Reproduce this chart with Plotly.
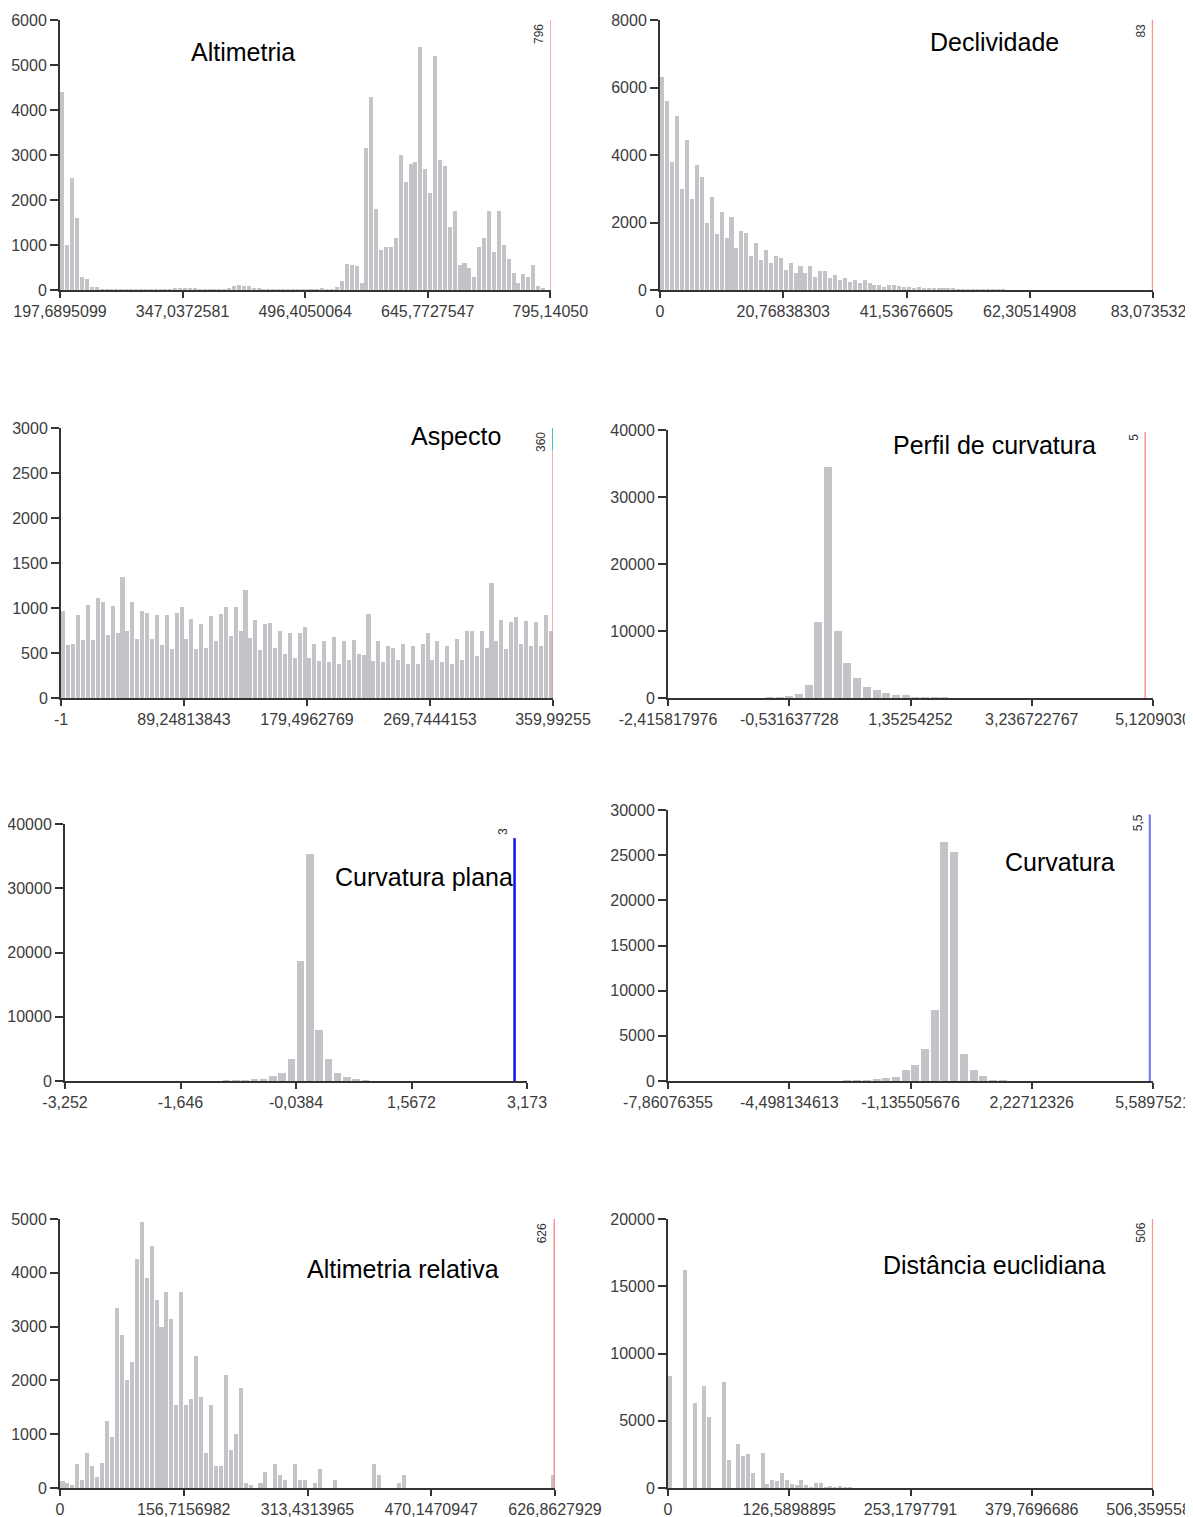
import numpy as np
import plotly.graph_objects as go

# page is 1193 x 1517; the html body adds an 8 px margin
PAGE_W, PAGE_H, OFF = 1193, 1517, 8
W, H = PAGE_W - OFF, PAGE_H - OFF

# ---------------- data ----------------
titles = ["Altimetria", "Declividade", "Aspecto", "Perfil de curvatura",
          "Curvatura plana", "Curvatura", "Altimetria relativa", "Distância euclidiana"]

alt_counts = [4400, 1000, 2500, 1600, 300, 250, 70, 60, 20, 15,
              20, 15, 10, 10, 5, 5, 5, 5, 5, 5,
              5, 10, 20, 50, 40, 30, 50, 40, 20, 10,
              10, 5, 5, 10, 30, 100, 110, 100, 80, 50,
              30, 10, 10, 5, 5, 5, 5, 5, 5, 10,
              10, 10, 20, 40, 10, 20, 60, 200, 570, 560,
              530, 150, 3150, 4300, 1800, 900, 950, 950, 1150, 3000,
              2400, 2800, 2850, 5400, 2700, 2150, 5200, 2900, 2750, 1400,
              1750, 550, 600, 500, 300, 950, 1150, 1750, 850, 1750,
              1000, 700, 380, 150, 350, 300, 550, 100, 50, 0]

decl_counts = [6300, 5600, 3800, 5150, 3000, 4450, 2700, 3700, 3350, 2000,
               2750, 1650, 2300, 1550, 2150, 1250, 1750, 1700, 1000, 1400,
               900, 1200, 800, 1000, 950, 600, 800, 500, 700, 500,
               700, 400, 550, 550, 350, 450, 300, 350, 250, 300,
               200, 300, 200, 150, 150, 100, 150, 150, 120, 100,
               80, 70, 80, 70, 60, 50, 40, 40, 40, 30,
               20, 20, 15, 15, 10, 10, 10, 5, 5, 5,
               0, 0, 0, 0, 0, 0, 0, 0, 0, 0,
               0, 0, 0, 0, 0, 0, 0, 0, 0, 0,
               0, 0, 0, 0, 0, 0, 0, 0, 0, 0]

asp_counts = [970, 590, 600, 920, 640, 1030, 640, 1110, 1070, 700,
              1020, 720, 1350, 740, 1065, 655, 970, 945, 655, 925,
              590, 925, 550, 940, 1010, 655, 880, 550, 820, 560,
              915, 635, 935, 1015, 690, 1015, 740, 1195, 670, 870,
              535, 820, 830, 560, 740, 485, 720, 450, 720, 785,
              450, 605, 410, 635, 405, 680, 375, 635, 420, 645,
              485, 480, 935, 410, 630, 400, 580, 560, 420, 600,
              375, 580, 375, 605, 720, 420, 635, 400, 580, 380,
              655, 420, 740, 740, 470, 740, 560, 1280, 635, 870,
              550, 840, 900, 600, 855, 580, 840, 580, 925, 740]

perf_counts = [0, 0, 0, 0, 0, 0, 0, 0, 0, 0,
               50, 150, 300, 600, 1900, 11300, 34500, 10000, 5200, 3000,
               1700, 1200, 700, 500, 500, 150, 80, 50, 30, 0,
               0, 0, 0, 0, 0, 0, 0, 0, 0, 0,
               0, 0, 0, 0, 0, 0, 0, 0, 0, 0]

plana_counts = [0, 0, 0, 0, 0, 0, 0, 0, 0, 0,
                0, 0, 0, 0, 0, 0, 0, 50, 100, 150,
                200, 300, 800, 1300, 3500, 18700, 35300, 7900, 3400, 1300,
                700, 200, 50, 0, 0, 0, 0, 0, 0, 0,
                0, 0, 0, 0, 0, 0, 0, 0, 0, 0]

curv_counts = [0, 0, 0, 0, 0, 0, 0, 0, 0, 0,
               0, 0, 0, 0, 0, 0, 0, 0, 50, 80,
               100, 200, 300, 400, 1200, 1800, 3500, 7900, 26500, 25300,
               3000, 1200, 500, 100, 50, 0, 0, 0, 0, 0,
               0, 0, 0, 0, 0, 0, 0, 0, 0, 0]

altrel_counts = [130, 100, 60, 450, 150, 650, 400, 200, 470, 1250,
                 950, 3350, 2850, 2000, 2350, 4250, 4950, 3900, 4500, 3500,
                 3000, 3650, 3150, 1550, 3650, 1550, 1650, 2450, 1700, 650,
                 1550, 400, 400, 2100, 700, 1000, 1850, 100, 50, 0,
                 100, 300, 0, 450, 250, 150, 0, 450, 150, 150,
                 0, 100, 350, 0, 0, 150, 0, 0, 0, 0,
                 0, 0, 0, 450, 250, 0, 0, 0, 100, 250,
                 0, 0, 0, 0, 0, 0, 0, 0, 0, 0,
                 0, 0, 0, 0, 0, 0, 0, 0, 0, 0,
                 0, 0, 0, 0, 0, 0, 0, 0, 0, 250]

dist_counts = [8300, 0, 0, 16200, 0, 6300, 0, 7600, 5300, 0,
               0, 7900, 2100, 0, 3300, 2400, 2500, 1100, 0, 2600,
               300, 600, 500, 1100, 600, 300, 250, 600, 200, 50,
               400, 400, 50, 150, 50, 150, 30, 20, 0, 0,
               0, 0, 0, 0, 0, 0, 0, 0, 0, 0,
               0, 0, 0, 0, 0, 0, 0, 0, 0, 0,
               0, 0, 0, 0, 0, 0, 0, 0, 0, 0,
               0, 0, 0, 0, 0, 0, 0, 0, 0, 0,
               0, 0, 0, 0, 0, 0, 0, 0, 0, 0,
               0, 0, 0, 0, 0, 0, 0, 0, 0, 0]

hist_min = [197.6895099, 0.0, -1.0, -2.415817976, -3.252, -7.86076355, 0.0, 0.0]
hist_max = [795.1405030, 83.0735321, 359.99255, 5.120903, 3.173, 5.5897521, 626.8627929, 506.3595581]

xtick_labels = [
    ["197,6895099", "347,0372581", "496,4050064", "645,7727547", "795,14050"],
    ["0", "20,76838303", "41,53676605", "62,30514908", "83,0735321"],
    ["-1", "89,24813843", "179,4962769", "269,7444153", "359,99255"],
    ["-2,415817976", "-0,531637728", "1,35254252", "3,236722767", "5,1209030"],
    ["-3,252", "-1,646", "-0,0384", "1,5672", "3,173"],
    ["-7,86076355", "-4,498134613", "-1,135505676", "2,22712326", "5,5897521"],
    ["0", "156,7156982", "313,4313965", "470,1470947", "626,8627929"],
    ["0", "126,5898895", "253,1797791", "379,7696686", "506,3595581"],
]

y_max = [6000, 8000, 3000, 40000, 40000, 30000, 5000, 20000]
y_step = [1000, 2000, 500, 10000, 10000, 5000, 1000, 5000]

break_vals = [796, 83, 360, 5, 3, 5.5, 626, 506]
break_labels = ["796", "83", "360", "5", "3", "5,5", "626", "506"]
break_tops = [6000, 8000, 3000, 39700, 37800, 29500, 5000, 20000]

counts_list = [alt_counts, decl_counts, asp_counts, perf_counts,
               plana_counts, curv_counts, altrel_counts, dist_counts]

# ---------------- layout (page-pixel boxes: left, right, top, bottom) ----------------
boxes = [(60, 551, 20, 290), (660, 1153, 20, 290),
         (61, 553, 428, 698), (668, 1153, 430, 698),
         (65, 527, 824, 1081), (668, 1153, 810, 1081),
         (60, 555, 1219, 1488), (668, 1153, 1219, 1488)]

title_pos = [(243, 52), (994, 42), (456, 436), (994, 445),
             (424, 877), (1060, 862), (403, 1269), (994, 1265)]

line_colors = ["#ff8f8f", "#ff8f8f", "#ff8f8f", "#ff8f8f",
               "#1010f0", "#6f6fff", "#ff8f8f", "#ff8f8f"]
line_widths = [1.5, 1.5, 1.5, 1.5, 2.5, 2, 1.5, 1.5]

BAR = "#c4c4c8"
AXC = "#333333"
TICKFONT = dict(family="Liberation Sans, Arial, sans-serif", size=16, color="#3c3c3c")


def fx(px):
    return (px - OFF) / W


def fy(py):
    return 1 - (py - OFF) / H


fig = go.Figure()
layout = dict(width=W, height=H, margin=dict(l=0, r=0, t=0, b=0, autoexpand=False),
              paper_bgcolor="white", plot_bgcolor="white",
              showlegend=False, bargap=0, annotations=[], shapes=[])

for k in range(8):
    sfx = "" if k == 0 else str(k + 1)
    xa, ya = "x" + sfx, "y" + sfx
    counts = np.array(counts_list[k], dtype=float)
    n = len(counts)
    lo, hi = hist_min[k], hist_max[k]
    edges = np.linspace(lo, hi, n + 1)
    centers = (edges[:-1] + edges[1:]) / 2
    bw = (hi - lo) / n
    fig.add_trace(go.Bar(x=centers, y=counts, width=bw * 0.82,
                         marker=dict(color=BAR, line=dict(width=0)),
                         xaxis=xa, yaxis=ya, hoverinfo="skip"))

    l, r, t, b = boxes[k]
    xr = [lo, max(hi, break_vals[k])]
    layout["xaxis" + sfx] = dict(
        domain=[fx(l), fx(r)], range=xr, anchor=ya, automargin=False,
        showline=True, linecolor=AXC, linewidth=2, mirror=False,
        ticks="outside", ticklen=6, tickwidth=1.5, tickcolor=AXC,
        tickvals=list(np.linspace(lo, hi, 5)), ticktext=xtick_labels[k],
        ticklabeloverflow="allow",
        tickangle=0, tickfont=TICKFONT, showgrid=False, zeroline=False,
        fixedrange=True)
    yv = list(range(0, y_max[k] + 1, y_step[k]))
    layout["yaxis" + sfx] = dict(
        domain=[fy(b), fy(t)], range=[0, y_max[k]], anchor=xa, automargin=False,
        showline=True, linecolor=AXC, linewidth=2,
        ticks="outside", ticklen=8, tickwidth=1.5, tickcolor=AXC,
        tickvals=yv, ticktext=[str(v) for v in yv], ticklabeloverflow="allow",
        tickfont=TICKFONT, showgrid=False, zeroline=False, fixedrange=True)

    # class-break line
    if k == 2:
        layout["shapes"].append(dict(type="line", xref=xa, yref=ya,
                                     x0=break_vals[k], x1=break_vals[k], y0=0, y1=2750,
                                     line=dict(color=line_colors[k], width=line_widths[k]),
                                     layer="above"))
        layout["shapes"].append(dict(type="line", xref=xa, yref=ya,
                                     x0=break_vals[k], x1=break_vals[k], y0=2750, y1=3000,
                                     line=dict(color="#39c6c6", width=2), layer="above"))
    else:
        layout["shapes"].append(dict(type="line", xref=xa, yref=ya,
                                     x0=break_vals[k], x1=break_vals[k], y0=0, y1=break_tops[k],
                                     line=dict(color=line_colors[k], width=line_widths[k]),
                                     layer="above"))
    layout["annotations"].append(dict(
        x=break_vals[k], y=y_max[k], xref=xa, yref=ya, text=break_labels[k],
        showarrow=False, textangle=-90, xanchor="right", yanchor="top",
        xshift=-3, yshift=-2,
        font=dict(family="Liberation Sans, Arial, sans-serif", size=12, color="#333333")))

    tx, ty = title_pos[k]
    layout["annotations"].append(dict(
        x=fx(tx), y=fy(ty), xref="paper", yref="paper", text=titles[k],
        showarrow=False, xanchor="center", yanchor="middle",
        font=dict(family="Liberation Sans, Arial, sans-serif", size=25, color="#000000")))

fig.update_layout(**layout)
fig.write_html("out.html")
